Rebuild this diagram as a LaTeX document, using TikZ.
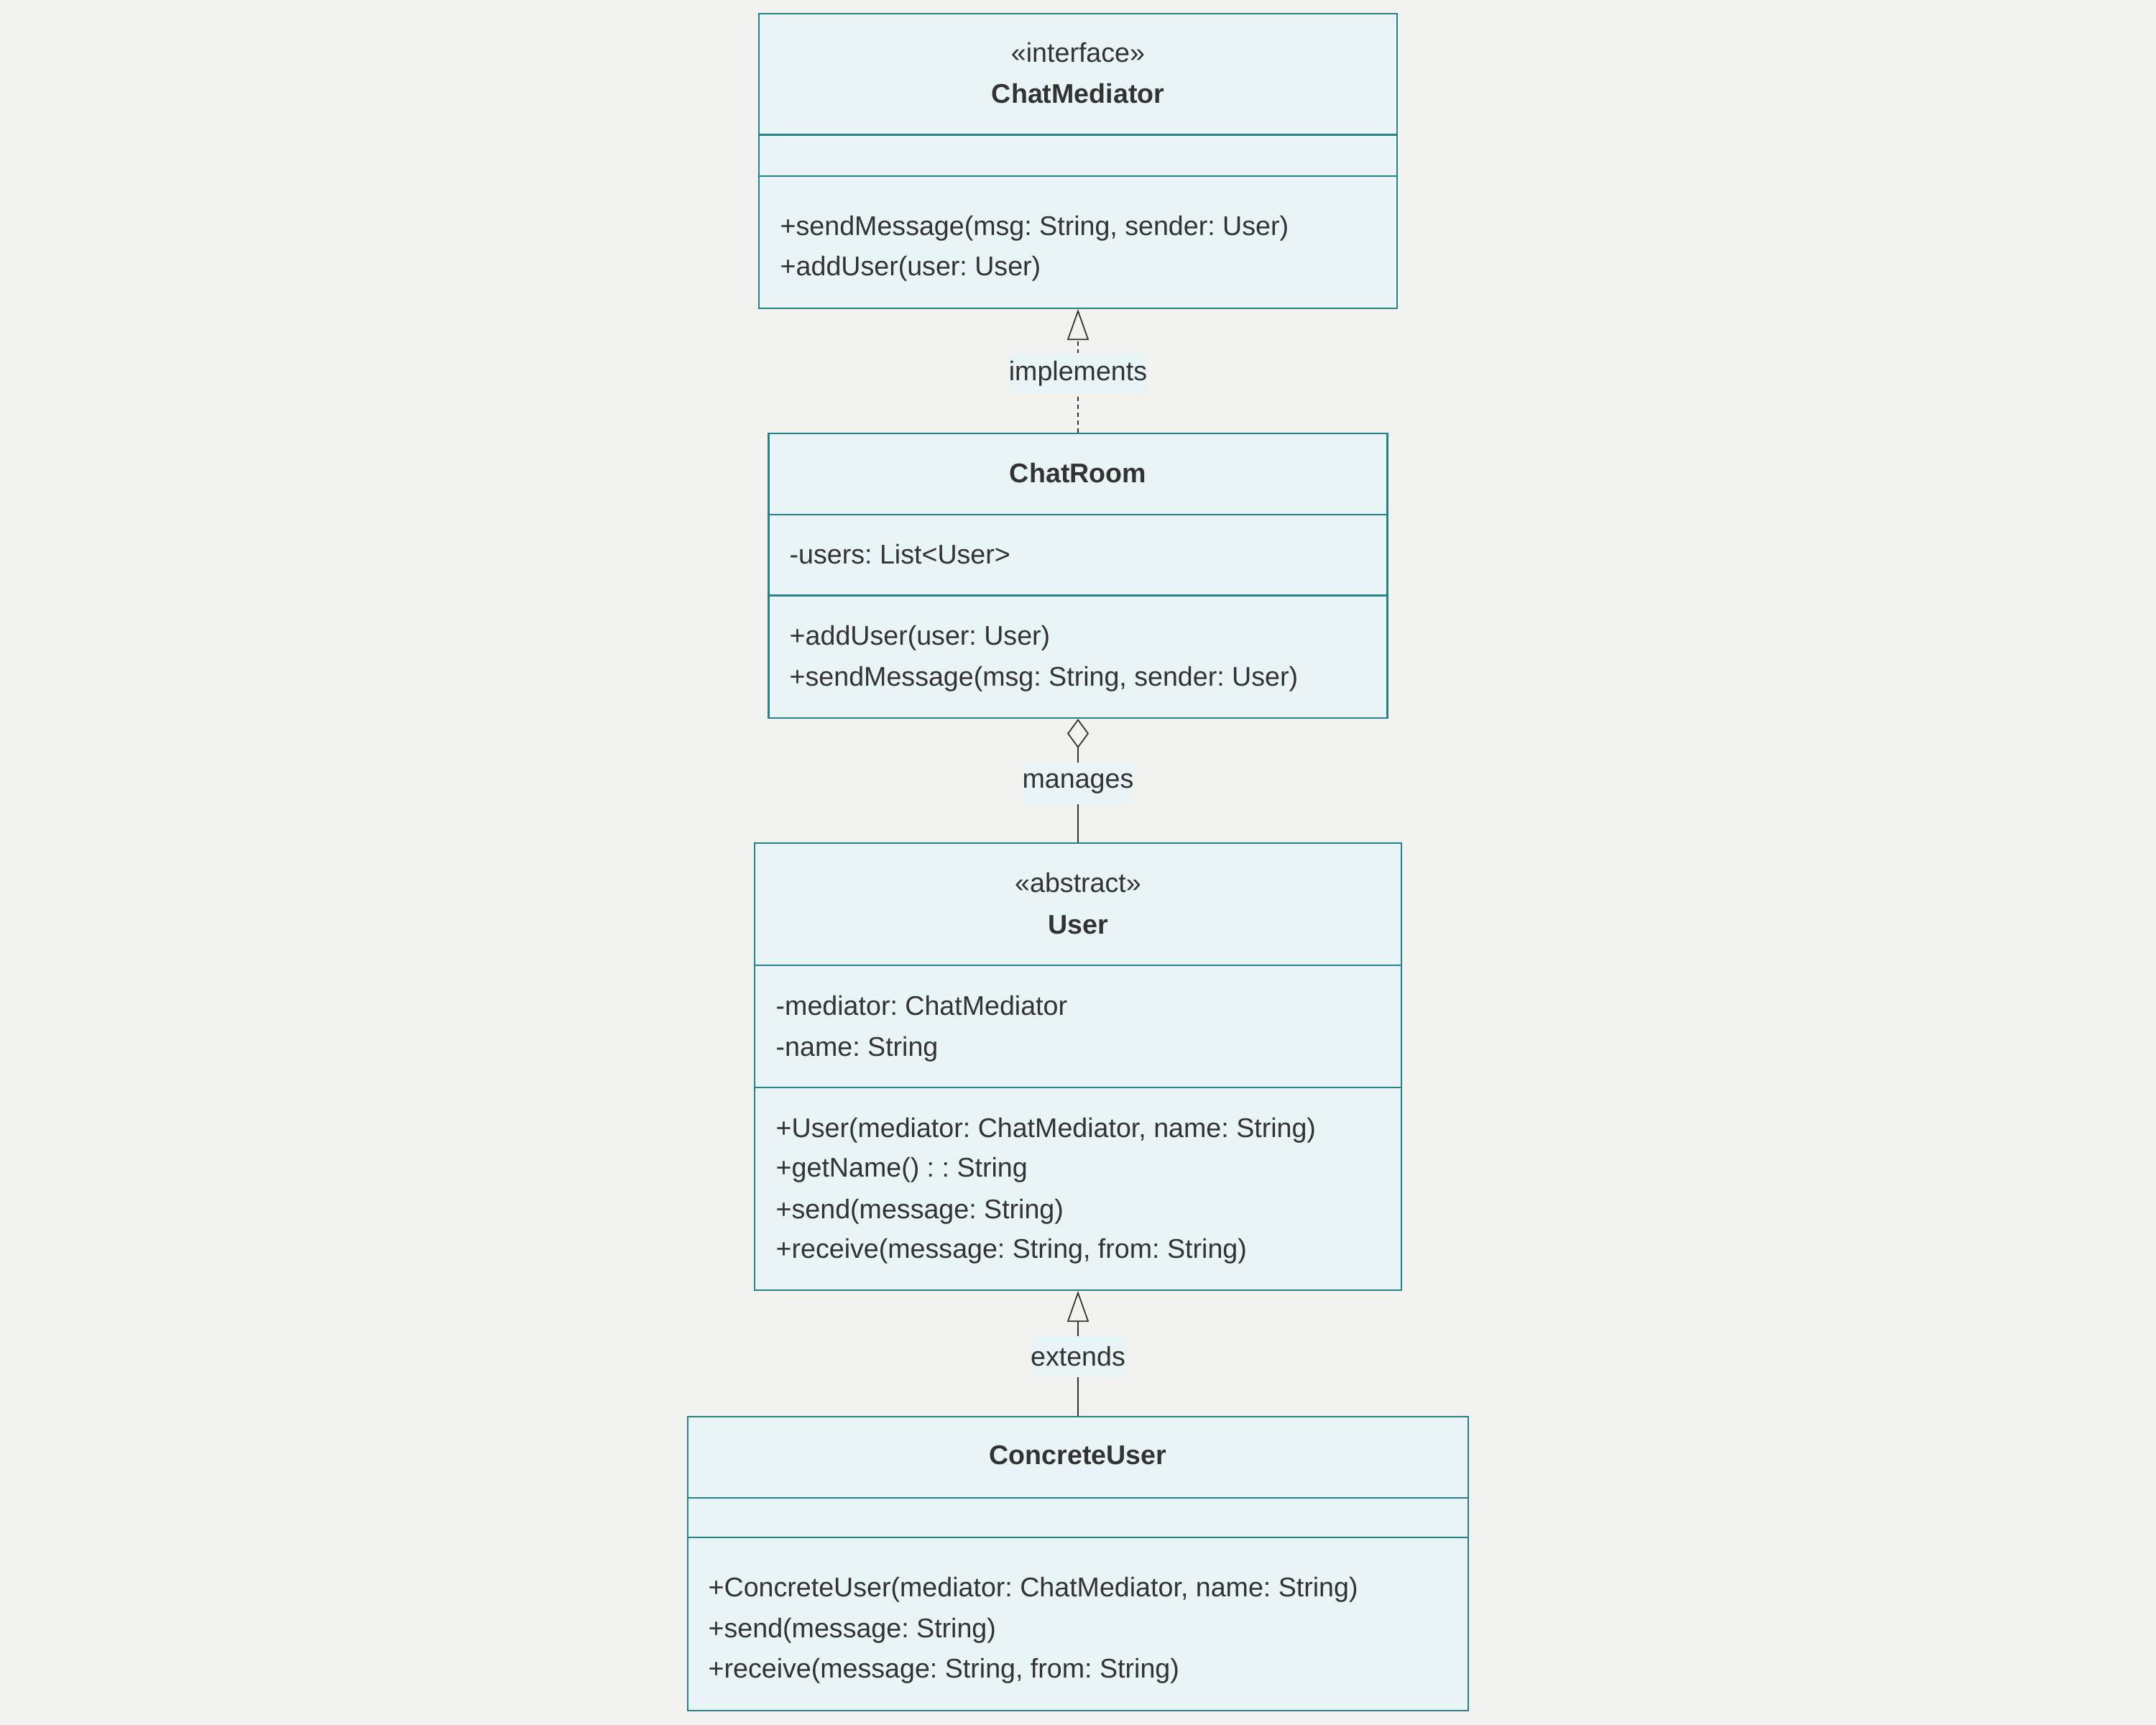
\documentclass[tikz,border=0pt]{standalone}
\usepackage{fontspec}
\setmainfont{Liberation Sans}
\usetikzlibrary{arrows.meta}
\definecolor{bgc}{HTML}{F2F3EE}
\definecolor{boxfill}{HTML}{E8F4F6}
\definecolor{boxline}{HTML}{26808E}
\definecolor{ink}{HTML}{333333}
\frenchspacing
\begin{document}
\begin{tikzpicture}[
  cls/.style={draw=boxline, fill=boxfill, line width=0.6pt, inner sep=0pt},
  sep/.style={draw=boxline, line width=0.6pt},
  txt/.style={text=ink, inner sep=0pt, yshift=-0.04cm, font=\fontsize{10.7}{13}\selectfont},
  mem/.style={txt, anchor=mid west},
  ttl/.style={txt, anchor=mid, font=\fontsize{10.7}{13}\selectfont\bfseries},
  lbl/.style={txt, fill=boxfill, inner xsep=0pt, minimum height=0.57cm},
  rel/.style={draw=ink, line width=0.5pt},
  hollow/.style={-{Triangle[open, length=0.43cm, width=0.30cm]}}
]
\fill[bgc] (0,0) rectangle (30,-24);
\useasboundingbox (0,0) rectangle (30,-24);

% ChatMediator
\node[cls, minimum width=8.88cm, minimum height=4.10cm] (med) at (15,-2.24) {};
\draw[sep] (med.west |- 0,-1.875) -- (med.east |- 0,-1.875);
\draw[sep] (med.west |- 0,-2.45) -- (med.east |- 0,-2.45);
\node[txt, anchor=mid] (medst) at (15,-0.73) {«interface»};
\node[ttl] (medname) at (15,-1.30) {ChatMediator};
\node[mem] (medm1) at (10.85,-3.14) {+sendMessage(msg: String, sender: User)};
\node[mem] (medm2) at (10.85,-3.70) {+addUser(user: User)};

% ChatRoom
\node[cls, minimum width=8.61cm, minimum height=3.96cm] (room) at (15,-8.01) {};
\draw[sep] (room.west |- 0,-7.156) -- (room.east |- 0,-7.156);
\draw[sep] (room.west |- 0,-8.285) -- (room.east |- 0,-8.285);
\node[ttl] (roomname) at (15,-6.58) {ChatRoom};
\node[mem] (rooma1) at (10.98,-7.71) {-users: List<User>};
\node[mem] (roomm1) at (10.98,-8.84) {+addUser(user: User)};
\node[mem] (roomm2) at (10.98,-9.41) {+sendMessage(msg: String, sender: User)};

% User
\node[cls, minimum width=9.00cm, minimum height=6.22cm] (user) at (15,-14.84) {};
\draw[sep] (user.west |- 0,-13.43) -- (user.east |- 0,-13.43);
\draw[sep] (user.west |- 0,-15.13) -- (user.east |- 0,-15.13);
\node[txt, anchor=mid] (userst) at (15,-12.28) {«abstract»};
\node[ttl] (username) at (15,-12.86) {User};
\node[mem] (usera1) at (10.79,-13.99) {-mediator: ChatMediator};
\node[mem] (usera2) at (10.79,-14.56) {-name: String};
\node[mem] (userm1) at (10.79,-15.69) {+User(mediator: ChatMediator, name: String)};
\node[mem] (userm2) at (10.79,-16.24) {+getName() : : String};
\node[mem] (userm3) at (10.79,-16.82) {+send(message: String)};
\node[mem] (userm4) at (10.79,-17.37) {+receive(message: String, from: String)};

% ConcreteUser
\node[cls, minimum width=10.86cm, minimum height=4.09cm] (conc) at (15,-21.755) {};
\draw[sep] (conc.west |- 0,-20.836) -- (conc.east |- 0,-20.836);
\draw[sep] (conc.west |- 0,-21.39) -- (conc.east |- 0,-21.39);
\node[ttl] (concname) at (15,-20.24) {ConcreteUser};
\node[mem] (concm1) at (9.85,-22.08) {+ConcreteUser(mediator: ChatMediator, name: String)};
\node[mem] (concm2) at (9.85,-22.65) {+send(message: String)};
\node[mem] (concm3) at (9.85,-23.21) {+receive(message: String, from: String)};

% relations
\draw[rel, hollow, dash pattern=on 0.06cm off 0.05cm] (room.north) -- node[lbl] (impl) {implements} (med.south);
\draw[rel, {Diamond[open, length=0.41cm, width=0.30cm]}-] (room.south) -- node[lbl] (mng) {manages} (user.north);
\draw[rel, hollow] (conc.north) -- node[lbl] (ext) {extends} (user.south);
\end{tikzpicture}
\end{document}
